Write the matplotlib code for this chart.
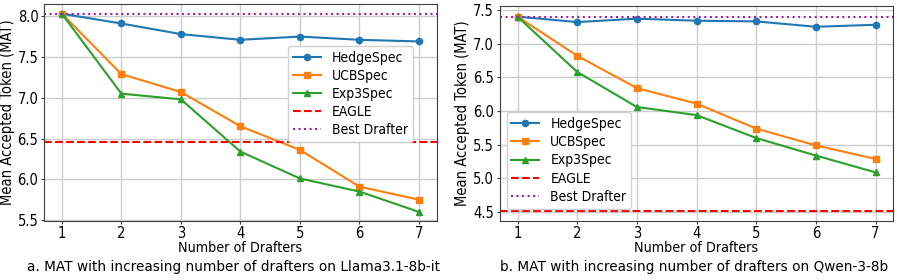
import matplotlib.pyplot as plt

plt.rcParams['font.family'] = ['DejaVu Sans']
plt.rcParams['font.stretch'] = 'condensed'

# number of drafters
drafters = [1, 2, 3, 4, 5, 6, 7]

# Llama3.1-8b-it
llama_hedge = [8.03, 7.91, 7.78, 7.71, 7.75, 7.71, 7.69]
llama_ucb = [8.03, 7.29, 7.07, 6.65, 6.36, 5.91, 5.75]
llama_exp3 = [8.03, 7.05, 6.98, 6.34, 6.01, 5.85, 5.60]
llama_eagle = 6.46
llama_best = 8.03

# Qwen-3-8b
qwen_hedge = [7.40, 7.32, 7.37, 7.34, 7.33, 7.25, 7.28]
qwen_ucb = [7.40, 6.82, 6.34, 6.11, 5.74, 5.49, 5.29]
qwen_exp3 = [7.40, 6.58, 6.06, 5.94, 5.60, 5.34, 5.09]
qwen_eagle = 4.51
qwen_best = 7.40

captions = ['a. MAT with increasing number of drafters on Llama3.1-8b-it',
            'b. MAT with increasing number of drafters on Qwen-3-8b']

fig = plt.figure(figsize=(8.97, 2.80), dpi=100)
ax1 = fig.add_axes([0.049, 0.211, 0.438, 0.775])
ax2 = fig.add_axes([0.557, 0.211, 0.439, 0.768])


def draw(ax, hedge, ucb, exp3, eagle, best, ylim, loc, anchor):
    ax.plot(drafters, hedge, '-o', color='#1f77b4', lw=1.5, ms=4.5, label='HedgeSpec')
    ax.plot(drafters, ucb, '-s', color='#ff7f0e', lw=1.5, ms=4.5, label='UCBSpec')
    ax.plot(drafters, exp3, '-^', color='#2ca02c', lw=1.5, ms=4.5, label='Exp3Spec')
    ax.axhline(eagle, color='red', ls='--', lw=1.5, label='EAGLE')
    ax.axhline(best, color='#a020a0', ls=':', lw=1.5, label='Best Drafter')
    ax.set_xlim(0.7, 7.3)
    ax.set_ylim(*ylim)
    ax.set_xticks(drafters)
    ax.grid(True, color='#cccccc', lw=1)
    ax.set_axisbelow(True)
    for s in ax.spines.values():
        s.set_color('#404040')
    ax.tick_params(labelsize=10.5, color='#404040', length=2.5, pad=1.5)
    ax.set_xlabel('Number of Drafters', fontsize=10.3, labelpad=0)
    ax.set_ylabel('Mean Accepted Token (MAT)', fontsize=10.5, labelpad=2)
    ax.legend(loc=loc, bbox_to_anchor=anchor, fontsize=10, handlelength=2.0,
              labelspacing=0.3, borderpad=0.35, edgecolor='#d0d0d0', framealpha=1)


draw(ax1, llama_hedge, llama_ucb, llama_exp3, llama_eagle, llama_best,
     (5.49, 8.15), 'center right', (0.957, 0.585))
draw(ax2, qwen_hedge, qwen_ucb, qwen_exp3, qwen_eagle, qwen_best,
     (4.37, 7.56), 'lower left', (0.0, 0.025))

fig.text(0.260, 0.046, captions[0], ha='center', va='center',
         fontsize=9.8, fontstretch='normal')
fig.text(0.774, 0.046, captions[1], ha='center', va='center',
         fontsize=9.8, fontstretch='normal')

fig.savefig('out.png', dpi=100)
